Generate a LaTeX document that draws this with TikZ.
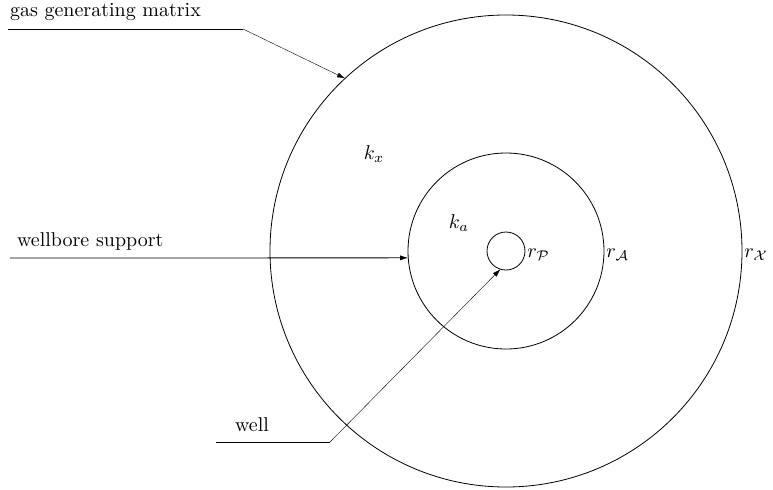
\documentclass[tikz,border=0pt]{standalone}
\usepackage{amsmath}
\usepackage{amssymb}
\usetikzlibrary{arrows.meta, positioning}

\begin{document}
\begin{tikzpicture}[x=0.5pt,y=-0.5pt, every node/.style={font=\normalsize},
    ring/.style={draw, circle, inner sep=0pt, outer sep=0pt},
    radius label/.style={anchor=west, inner sep=1pt, yshift=-2pt},
    pointer/.style={-{Latex[length=4pt,width=2.5pt]}, thin}]
    \useasboundingbox (0,0) rectangle (773,489);
    \node[ring, minimum size=236pt] (outer) at (506,251) {};
    \node[ring, minimum size=98pt] (inner) at (506,251) {};
    \node[ring, minimum size=19pt] (pore) at (506,251) {};
    \node (kx) at (374,154) {$k_x$};
    \node (ka) at (459,223) {$k_a$};
    \node[radius label] (rp) at (pore.east) {$r_{\mathcal{P}}$};
    \node[radius label] (ra) at (inner.east) {$r_{\mathcal{A}}$};
    \node[radius label] (rx) at (outer.east) {$r_{\mathcal{X}}$};
    \node[anchor=west] (gas) at (3,12) {gas generating matrix};
    \node[anchor=west] (wb) at (10,241) {wellbore support};
    \node[anchor=west] (well) at (228,425) {well};
    \coordinate (gasA) at (8,29);
    \coordinate (gasB) at (243,29);
    \coordinate (wbA) at (10,258);
    \coordinate (wellA) at (216,442);
    \coordinate (wellB) at (330,442);
    \draw[thin] (gasA) -- (gasB);
    \draw[pointer, very thin] (gasB) -- (outer.133);
    \draw[pointer] (wbA) -- (inner.184);
    \draw[thin] (wellA) -- (wellB);
    \draw[pointer, very thin] (wellB) -- (pore.253);
\end{tikzpicture}
\end{document}
